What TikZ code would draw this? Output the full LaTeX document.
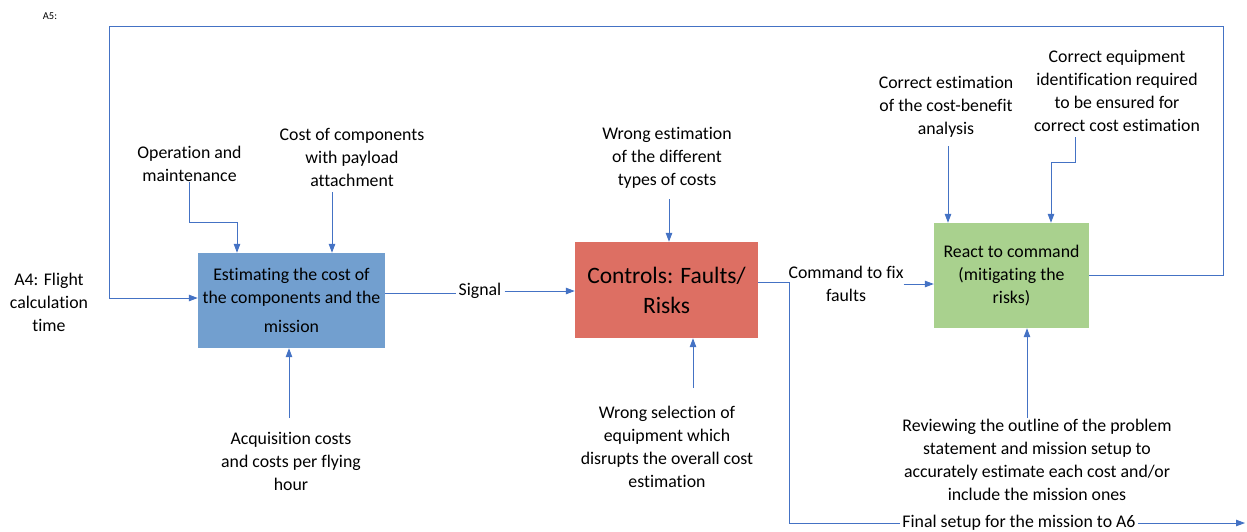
\documentclass[tikz,border=0pt]{standalone}
\usepackage{fontspec}
\setmainfont{Carlito}[Ligatures=NoCommon]
\usetikzlibrary{arrows.meta,calc}
\definecolor{linkblue}{RGB}{68,114,196}
\definecolor{boxblue}{RGB}{114,159,207}
\definecolor{boxred}{RGB}{221,111,99}
\definecolor{boxgreen}{RGB}{169,209,142}
\begin{document}
\begin{tikzpicture}[x=1pt,y=-1pt,
  txt/.style={font=\fontsize{17.8}{23}\selectfont, align=center, inner sep=0pt},
  proc/.style={inner sep=0pt, align=center, font=\fontsize{17.8}{23}\selectfont},
  link/.style={draw=linkblue, line width=1pt},
  arr/.style={link, -{Triangle[length=9pt,width=6.5pt]}},
]
\useasboundingbox (0,0) rectangle (1247,531);

% process boxes
\node[proc, fill=boxblue, minimum width=187pt, minimum height=95pt] (blue) at (291.5,300.5)
  {Estimating the cost of\\the components and the\\[6pt]mission};
\node[proc, fill=boxred, minimum width=183pt, minimum height=96pt,
  font=\fontsize{23.5}{30}\selectfont] (red) at (666.5,290) {Controls: Faults/\\Risks};
\node[proc, fill=boxgreen, minimum width=155pt, minimum height=105pt] (green) at (1011.5,275.5)
  {React to command\\(mitigating the\\risks)};

% labels
\node[txt, font=\fontsize{10.5}{12}\selectfont] (a5) at (50,16) {A5:};
\node[txt] (a4) at (49,302) {A4: Flight\\calculation\\time};
\node[txt] (opm) at (189.5,164) {Operation and\\maintenance};
\node[txt] (cost) at (352,157.5) {Cost of components\\with payload\\attachment};
\node[txt] (acq) at (291,461.5) {Acquisition costs\\and costs per flying\\hour};
\node[txt] (west) at (667,157.5) {Wrong estimation\\of the different\\types of costs};
\node[txt] (wsel) at (667,446.5) {Wrong selection of\\equipment which\\disrupts the overall cost\\estimation};
\node[txt] (cest) at (946,106.5) {Correct estimation\\of the cost-benefit\\analysis};
\node[txt] (ceq) at (1117,91) {Correct equipment\\identification required\\to be ensured for\\correct cost estimation};
\node[txt] (rev) at (1037,459.5) {Reviewing the outline of the problem\\statement and mission setup to\\accurately estimate each cost and/or\\include the mission ones};
\node[txt, fill=white, inner xsep=3pt] (sig) at (480,291) {Signal};
\node[txt] (cmd) at (846,284) {Command to fix\\faults};
\node[txt, fill=white, inner xsep=2pt] (fin) at (1019,523) {Final setup for the mission to A6};

% feedback loop from the reaction back to the estimation
\coordinate (loopR) at (1223,26);
\coordinate (loopL) at (109,26);
\draw[arr] (green.east) -| (loopR) -- (loopL) |- ([yshift=2.5pt]blue.west);

% main flow
\coordinate (bo) at ([yshift=7.5pt]blue.east);
\draw[link] (bo) -- (bo -| sig.west);
\draw[arr] (sig.east) -- (sig.east -| red.west);

\coordinate (ro) at ([yshift=8pt]red.east);
\coordinate (rturn) at (789,282);
\coordinate (rbot) at (789,523);
\coordinate (outend) at (1245,523);
\draw[link] (ro) -- (rturn) -- (rbot) -- (rbot -| fin.west);
\draw[arr] (fin.east) -- (outend);
\draw[arr] (cmd.east) -- (cmd.east -| green.west);

% inputs to the estimation box
\coordinate (opB) at (237,222);
\draw[arr] (opm.south) |- (opB) -- (opB |- blue.north);
\coordinate (costS) at (332,192);
\draw[arr] (costS) -- (costS |- blue.north);
\coordinate (acqS) at (289,418);
\draw[arr] (acqS) -- (acqS |- blue.south);

% inputs to the controls box
\coordinate (westS) at (669,199);
\draw[arr] (westS) -- (westS |- red.north);
\coordinate (wselS) at (693,388);
\draw[arr] (wselS) -- (wselS |- red.south);

% inputs to the reaction box
\coordinate (cestS) at (948,146);
\draw[arr] (cestS) -- (cestS |- green.north);
\coordinate (ceqS) at (1075,137);
\coordinate (ceqB) at (1051,162);
\draw[arr] (ceqS) |- (ceqB) -- (ceqB |- green.north);
\coordinate (revS) at (1027,418);
\draw[arr] (revS) -- (revS |- green.south);
\end{tikzpicture}
\end{document}
